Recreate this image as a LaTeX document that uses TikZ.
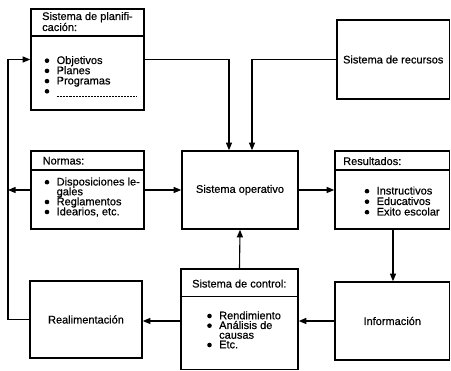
\documentclass[tikz,border=0pt]{standalone}
\usepackage{fontspec}
\setmainfont{Liberation Sans}
\newfontfamily\printfont[FakeBold=0.5]{Liberation Sans}
\usetikzlibrary{arrows.meta,calc}

% bullet item: name, x of bullet, baseline y, text
\newcommand\bulitem[4]{%
  \node[dot] (#1b) at (#2,#3-3.3) {};
  \node[txt] (#1) at (#2+9.5,#3) {#4};}
% continuation line without bullet
\newcommand\contitem[4]{%
  \node[txt] (#1) at (#2+9.5,#3) {#4};}

\begin{document}
\begin{tikzpicture}[x=1pt,y=-1pt,
  box/.style={draw,line width=1.6pt,inner sep=0pt},
  txt/.style={anchor=base west,inner sep=0pt,font=\printfont\fontsize{11}{12}\selectfont},
  label/.style={font=\printfont\fontsize{11}{12}\selectfont},
  dot/.style={circle,fill,inner sep=0pt,minimum size=4.6pt},
  sep/.style={line width=1.1pt},
  conn/.style={line width=1.1pt},
  arr/.style={conn,-{Triangle[length=7.5pt,width=6pt]}}]

\useasboundingbox (0,0) rectangle (451,371);

% boxes
\node[box,minimum width=113pt,minimum height=101pt] (plan) at (87.5,59.5) {};
\node[box,minimum width=112.5pt,minimum height=79pt,label] (rec) at (393.25,59.5) {Sistema de recursos};
\node[box,minimum width=113pt,minimum height=78pt] (norm) at (87.5,190) {};
\node[box,minimum width=116pt,minimum height=78pt,label] (op) at (240,190) {Sistema operativo};
\node[box,minimum width=114.5pt,minimum height=78pt] (res) at (392.25,190) {};
\node[box,minimum width=112pt,minimum height=77pt,label] (real) at (86,319.5) {Realimentación};
\node[box,minimum width=117pt,minimum height=100.5pt] (ctl) at (239.5,319.25) {};
\node[box,minimum width=114.5pt,minimum height=78pt,label] (inf) at (392.25,321) {Información};

% header rules
\draw[sep] (plan.west |- 0,36) -- (plan.east |- 0,36);
\draw[sep] (norm.west |- 0,170) -- (norm.east |- 0,170);
\draw[sep] (res.west |- 0,170) -- (res.east |- 0,170);
\draw[sep] (ctl.west |- 0,296.5) -- (ctl.east |- 0,296.5);

% planning system
\node[txt] (planh1) at (42,20) {Sistema de planifi-};
\node[txt] (planh2) at (42,31) {cación:};
\bulitem{p1}{47}{64}{Objetivos}
\bulitem{p2}{47}{74.2}{Planes}
\bulitem{p3}{47}{84.4}{Programas}
\node[dot] (p4b) at (47,91.3) {};
\coordinate (p4s) at (56.5,96.5);
\coordinate (p4e) at (137,96.5);
\draw[line width=0.7pt,dash pattern=on 0.6pt off 0.9pt] (p4s) -- (p4e);

% norms
\node[txt] (normh) at (42.5,164.5) {Normas:};
\bulitem{n1}{47}{185.5}{Disposiciones le-}
\contitem{n2}{47}{195.3}{gales}
\bulitem{n3}{47}{205.3}{Reglamentos}
\bulitem{n4}{47}{215.3}{Idearios, etc.}

% results
\node[txt] (resh) at (343,165) {Resultados:};
\bulitem{r1}{367}{194.5}{Instructivos}
\bulitem{r2}{367}{205}{Educativos}
\bulitem{r3}{367}{215.5}{Exito escolar}

% control system
\node[txt] (ctlh) at (192,287.5) {Sistema de control:};
\bulitem{c1}{209.5}{319.3}{Rendimiento}
\bulitem{c2}{209.5}{329}{Análisis de}
\contitem{c3}{209.5}{338.7}{causas}
\bulitem{c4}{209.5}{348.3}{Etc.}

% connectors
\coordinate (lx1) at (8,190);
\coordinate (lx2) at (8,319.5);
\coordinate (lx3) at (8,59.5);
\draw[arr] (plan.east) -| ([xshift=-11pt]op.north);
\draw[arr] (rec.west) -| ([xshift=12pt]op.north);
\draw[arr] (norm.east) -- (op.west);
\draw[arr] (norm.west) -- (lx1);
\draw[arr] (real.west) -- (lx2) -- (lx3) -- (plan.west);
\draw[arr] (op.east) -- (res.west);
\draw[arr] ([xshift=0.75pt]res.south) -- ([xshift=0.75pt]inf.north);
\draw[arr] (inf.west) -- (ctl.east |- inf.west);
\draw[arr] (ctl.west |- inf.west) -- (real.east |- inf.west);
\draw[arr] (ctl.north) -- (op.south);
\end{tikzpicture}
\end{document}
